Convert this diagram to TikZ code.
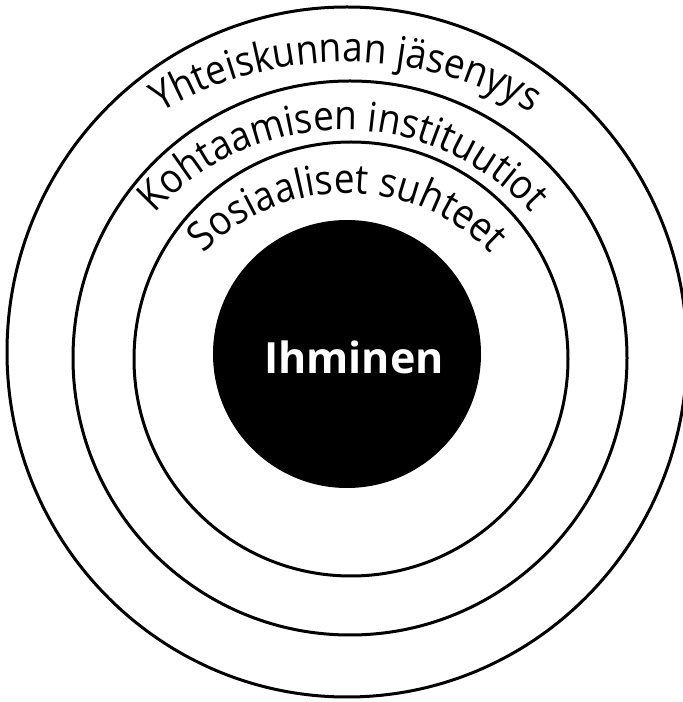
\documentclass[tikz,border=0pt]{standalone}
\usepackage{fontspec}
\setmainfont{Open Sans}
\newfontfamily\arcfont[FakeStretch=0.9]{Open Sans}
\usetikzlibrary{decorations.text,calc}
\tikzset{
  ring/.style={draw=black, line width=3pt},
  arctext/.style={decorate, decoration={text along path, text align=center,
    text={|\arcfont\fontsize{41pt}{41pt}\selectfont|#1}}}
}
\begin{document}
\begin{tikzpicture}[x=1pt,y=1pt]
\useasboundingbox (0,0) rectangle (683,702);
\fill[white] (0,0) rectangle (683,702);
\draw[ring] (347,350) ellipse[x radius=340, y radius=345];
\draw[ring] (350,344) circle[radius=277];
\draw[ring] (351,343) circle[radius=217];
\fill[black] (347,348) circle[radius=134];
\node[anchor=base, text=white, font=\bfseries\fontsize{43pt}{43pt}\selectfont] (ih) at (354,328) {Ihminen};
\coordinate (c1) at (346,276.4);
\coordinate (c2) at (343,318);
\coordinate (c3) at (347.5,310);
\path[arctext={Yhteiskunnan jäsenyys}] ($(c1)+(180:363.6)$) arc[start angle=180, end angle=0, radius=363.6];
\path[arctext={Kohtaamisen instituutiot}] ($(c2)+(180:254)$) arc[start angle=180, end angle=0, radius=254];
\path[arctext={Sosiaaliset suhteet}] ($(c3)+(180:199)$) arc[start angle=180, end angle=0, radius=199];
\end{tikzpicture}
\end{document}
